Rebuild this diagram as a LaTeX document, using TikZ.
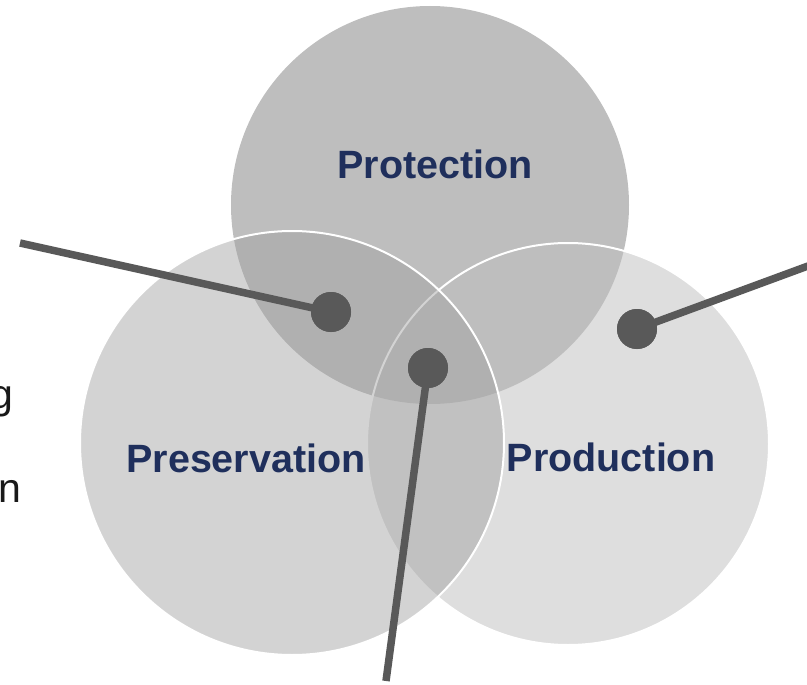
\documentclass[tikz,border=0pt]{standalone}
\usepackage{fontspec}
\setmainfont{Liberation Sans}
\definecolor{labelblue}{HTML}{1F2F5C}
\definecolor{dotgray}{HTML}{595959}
\definecolor{topfill}{HTML}{BEBEBE}
\definecolor{rightfill}{HTML}{DEDEDE}
\definecolor{leftfill}{HTML}{A0A0A0}
\tikzset{
  biglabel/.style={font=\fontsize{39.5}{44}\selectfont\bfseries, text=labelblue, inner sep=0pt},
  cutletter/.style={font=\fontsize{41}{46}\selectfont, text=black!90, inner sep=0pt, anchor=base east},
  pin/.style={circle, fill=dotgray, minimum size=40pt, inner sep=0pt},
  pinline/.style={draw=dotgray, line width=7.5pt},
  rim/.style={draw=white, line width=2pt}
}
\begin{document}
\begin{tikzpicture}[x=1pt,y=-1pt]
\useasboundingbox (0,0) rectangle (807,685);
% circles
\fill[rightfill] (568,444) circle (201);
\fill[topfill] (430,205) circle (199);
\draw[rim] (568,444) circle (201);
\fill[leftfill, fill opacity=0.46] (292,443) circle (212);
\draw[rim] (292,443) circle (212);
% labels
\node[biglabel] (protection) at (435,164) {Protection};
\node[biglabel] (preservation) at (246,458) {Preservation};
\node[biglabel] (production) at (611,457) {Production};
% cut-off text at left
\node[cutletter] (gletter) at (14,408) {g};
\node[cutletter] (nletter) at (21.5,502) {n};
% pins
\coordinate (e1) at (20,243);
\coordinate (e2) at (386,681);
\coordinate (e3) at (808,266);
\node[pin] (d1) at (331,312) {};
\node[pin] (d2) at (428,368) {};
\node[pin] (d3) at (637,329) {};
\draw[pinline] (e1) -- (d1.center);
\draw[pinline] (e2) -- (d2.center);
\draw[pinline] (e3) -- (d3.center);
\node[pin] at (d1) {};
\node[pin] at (d2) {};
\node[pin] at (d3) {};
\end{tikzpicture}
\end{document}
